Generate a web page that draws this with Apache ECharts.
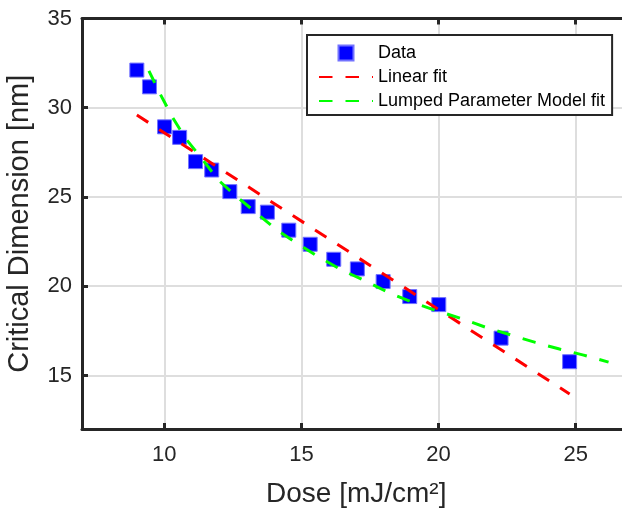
<!DOCTYPE html>
<html>
<head>
<meta charset="utf-8">
<script src="https://cdn.jsdelivr.net/npm/echarts@6/dist/echarts.min.js"></script>
<style>
html,body{margin:0;padding:0;background:#fff;}
#chart{width:622px;height:512px;}
</style>
</head>
<body>
<div id="chart"></div>
<script>
// Measured data points (Dose, Critical Dimension)
const doseData = [9.00, 9.46, 10.01, 10.56, 11.14, 11.73, 12.39, 13.06, 13.76, 14.54, 15.32, 16.18, 17.04, 17.98, 18.95, 20.01, 22.28, 24.78];
const cdData   = [32.11, 31.17, 28.93, 28.34, 26.98, 26.51, 25.30, 24.46, 24.15, 23.14, 22.35, 21.51, 20.97, 20.26, 19.42, 18.97, 17.09, 15.77];

// Linear fit (read endpoints)
const linDose = [9.00, 24.78];
const linCD   = [29.59, 13.96];

// Lumped Parameter Model fit
const lpmDose = [9.44, 9.84, 10.30, 10.79, 11.36, 11.97, 12.64, 13.37, 14.10, 14.83, 15.64, 16.47, 17.32, 18.15, 19.06, 19.90, 20.79, 21.70, 22.61, 23.53, 24.41, 25.29, 26.20];
const lpmCD   = [32.07, 30.80, 29.46, 28.25, 27.17, 25.95, 25.02, 24.09, 23.15, 22.41, 21.63, 20.91, 20.30, 19.67, 19.09, 18.64, 18.21, 17.71, 17.28, 16.85, 16.48, 16.14, 15.75];

const seriesNames = ['Data', 'Linear fit', 'Lumped Parameter Model fit'];
const xTitle = 'Dose [mJ/cm²]';
const yTitle = 'Critical Dimension [nm]';

const zip = (a, b) => a.map((v, i) => [v, b[i]]);
const FONT = "'Liberation Sans', Arial, Helvetica, sans-serif";
const INK = '#262626';
const GRIDC = '#dedede';
const hiddenSym = {color: 'rgba(0,0,0,0)', borderColor: 'rgba(0,0,0,0)', borderWidth: 0};

const chart = echarts.init(document.getElementById('chart'), null, {renderer: 'canvas'});
chart.setOption({
  backgroundColor: '#ffffff',
  animation: false,
  textStyle: {fontFamily: FONT, color: INK},
  grid: {left: 82, top: 18.5, bottom: 83, right: -8.5, containLabel: false, outerBoundsMode: 'none'},
  legend: {
    orient: 'vertical',
    left: 307, top: 35,
    padding: [9, 7, 5, 11],
    itemWidth: 54, itemHeight: 15, itemGap: 6,
    backgroundColor: '#ffffff',
    borderColor: INK, borderWidth: 2,
    textStyle: {fontFamily: FONT, fontSize: 18, color: '#000'},
    data: [
      {name: seriesNames[0], icon: 'path://M0,0L10,0L10,10L0,10Z'},
      {name: seriesNames[1], itemStyle: hiddenSym},
      {name: seriesNames[2], itemStyle: hiddenSym}
    ]
  },
  xAxis: [{
    type: 'value', min: 7, max: 27, splitNumber: 4,
    name: xTitle, nameLocation: 'middle', nameGap: 51,
    nameTextStyle: {fontFamily: FONT, fontSize: 28, color: INK},
    axisLine: {show: true, lineStyle: {color: INK, width: 3}},
    axisTick: {show: true, inside: true, length: 6, lineStyle: {color: INK, width: 3}},
    axisLabel: {fontFamily: FONT, fontSize: 22, color: INK, margin: 15, showMinLabel: false, showMaxLabel: false},
    splitLine: {show: true, lineStyle: {color: GRIDC, width: 2}}
  }, {
    type: 'value', min: 7, max: 27, splitNumber: 4, position: 'top',
    axisLine: {show: true, lineStyle: {color: INK, width: 3}},
    axisTick: {show: true, inside: true, length: 6, lineStyle: {color: INK, width: 3}},
    axisLabel: {show: false},
    splitLine: {show: false}
  }],
  yAxis: [{
    type: 'value', min: 12, max: 35, splitNumber: 5,
    name: yTitle, nameLocation: 'middle', nameGap: 48,
    nameTextStyle: {fontFamily: FONT, fontSize: 29, color: INK},
    axisLine: {show: true, lineStyle: {color: INK, width: 3}},
    axisTick: {show: true, inside: true, length: 6, lineStyle: {color: INK, width: 3}},
    axisLabel: {fontFamily: FONT, fontSize: 22, color: INK, margin: 10, showMinLabel: false},
    splitLine: {show: true, lineStyle: {color: GRIDC, width: 2}}
  }],
  series: [
    {
      name: seriesNames[0], type: 'scatter', z: 2,
      symbol: 'rect', symbolSize: 14,
      itemStyle: {color: '#0000ff', borderColor: '#7272ff', borderWidth: 1, opacity: 1},
      data: zip(doseData, cdData)
    },
    {
      name: seriesNames[1], type: 'line', z: 3,
      symbol: 'none', showSymbol: false,
      lineStyle: {color: '#ff0000', width: 3, type: [13.5, 13]},
      itemStyle: {color: '#ff0000'},
      data: zip(linDose, linCD)
    },
    {
      name: seriesNames[2], type: 'line', z: 4, smooth: false,
      symbol: 'none', showSymbol: false,
      lineStyle: {color: '#00ff00', width: 3, type: [13.5, 13]},
      itemStyle: {color: '#00ff00'},
      data: zip(lpmDose, lpmCD)
    }
  ]
});
</script>
</body>
</html>
